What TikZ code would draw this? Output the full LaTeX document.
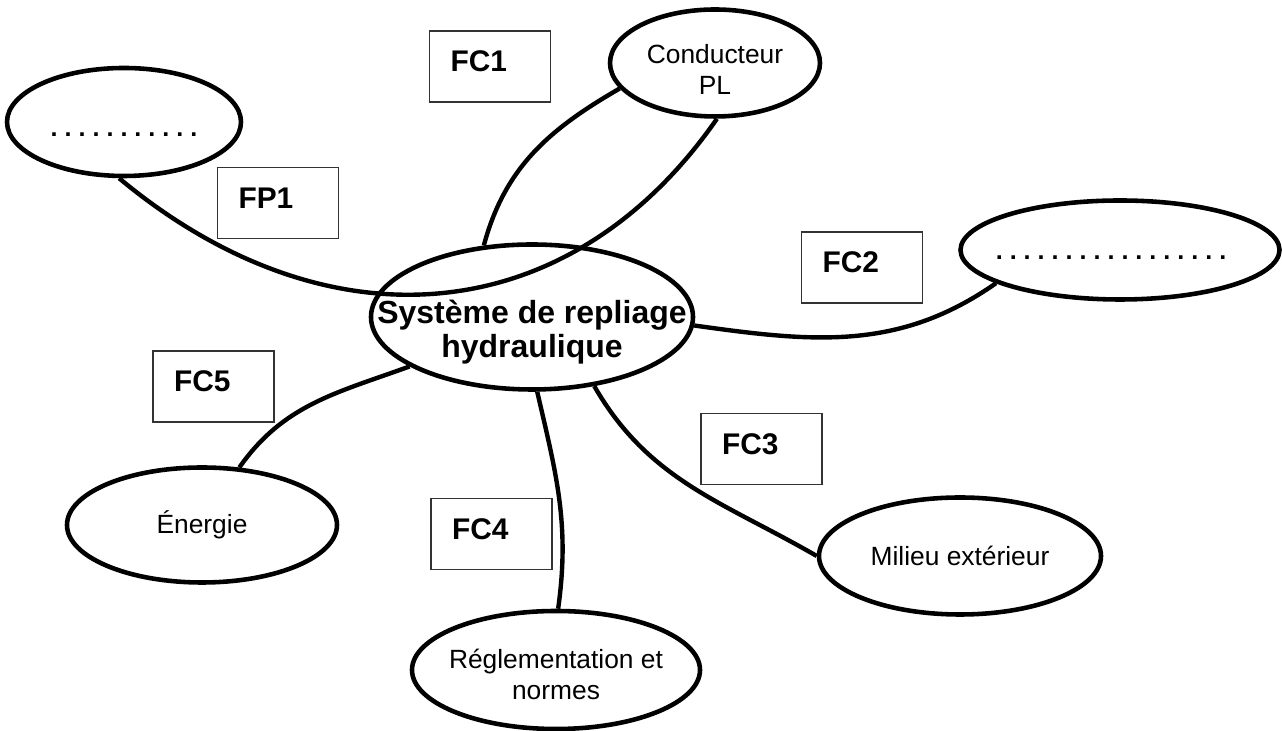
\documentclass[tikz,border=0pt]{standalone}
\usepackage{fontspec}
\setmainfont{Liberation Sans}
\usetikzlibrary{shapes.geometric}
\frenchspacing

\begin{document}
\begin{tikzpicture}[
    acteur/.style={ellipse, draw, line width=2.6pt, inner xsep=-1.5cm, inner ysep=0pt,
        align=center, font=\fontsize{15}{18}\selectfont},
    pointilles/.style={font=\fontsize{14.3}{17}\selectfont\bfseries},
    fonction/.style={rectangle, draw=black!80, line width=0.6pt, minimum height=1.42cm,
        inner xsep=0.42cm, text width=1.58cm, text depth=0.2cm, align=left,
        font=\fontsize{17}{20}\selectfont\bfseries},
    lien/.style={line width=2.5pt}
]
    \useasboundingbox (0,0) rectangle (25.64,14.62);

    % Système au centre
    \node[acteur, minimum width=6.44cm, minimum height=2.9cm,
        font=\fontsize{18.2}{19.8}\selectfont\bfseries] (systeme) at (10.64,8.28)
        {\rule{0pt}{1.07cm}Système de repliage\\hydraulique};

    % Éléments du milieu extérieur
    \node[acteur, pointilles, minimum width=4.68cm, minimum height=2.16cm] (vide1) at (2.48,12.18)
        {\rule{0pt}{0.6cm}. . . . . . . . . . .};
    \node[acteur, minimum width=4.2cm, minimum height=2.14cm] (conducteur) at (14.30,13.36)
        {\rule{0pt}{0.64cm}Conducteur\\PL};
    \node[acteur, pointilles, minimum width=6.38cm, minimum height=1.98cm] (vide2) at (22.40,9.62)
        {\rule{0pt}{0.4cm}. . . . . . . . . . . . . . . . .\hspace{0.36cm}};
    \node[acteur, minimum width=5.64cm, minimum height=2.34cm] (milieu) at (19.20,3.50)
        {Milieu extérieur};
    \node[acteur, minimum width=5.76cm, minimum height=2.36cm] (reglementation) at (11.12,1.22)
        {\rule{0pt}{0.56cm}Réglementation et\\normes};
    \node[acteur, minimum width=5.4cm, minimum height=2.3cm] (energie) at (4.04,4.12)
        {Énergie};

    % Fonctions (cadres)
    \node[fonction] (fc1) at (9.80,13.29) {FC1};
    \node[fonction] (fp1) at (5.56,10.56) {FP1};
    \node[fonction] (fc2) at (17.24,9.27) {FC2};
    \node[fonction] (fc3) at (15.23,5.64) {FC3};
    \node[fonction] (fc4) at (9.83,3.94) {FC4};
    \node[fonction] (fc5) at (4.27,6.89) {FC5};

    % Liaisons
    \draw[lien] (vide1.-95) .. controls +(4.16,-3.46) and +(-2.96,-4.26) .. (conducteur.-88); % FP1
    \draw[lien] (systeme.124) to[out=75,in=210] (conducteur.195); % FC1
    \draw[lien] (systeme.-3) to[out=-8,in=215] (vide2.195); % FC2
    \draw[lien] (systeme.-48) to[out=-60,in=150] (milieu.west); % FC3
    \draw[lien] (systeme.-86) to[out=-77,in=82] (reglementation.88); % FC4
    \draw[lien] (systeme.202) to[out=200,in=55] (energie.57); % FC5
\end{tikzpicture}
\end{document}
